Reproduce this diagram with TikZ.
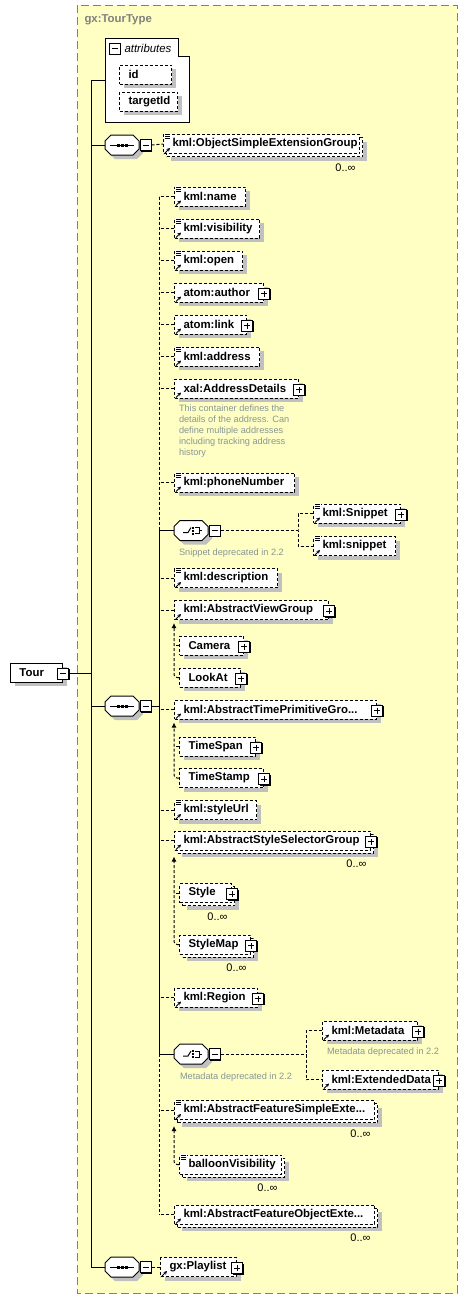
\documentclass[tikz,border=0pt]{standalone}
\usepackage{fontspec}
\setmainfont{Liberation Sans}
\usepackage{tikz}
\usetikzlibrary{arrows.meta,shadows}

\definecolor{bgyellow}{RGB}{255,255,195}
\definecolor{shadowgray}{RGB}{192,192,192}
\definecolor{notegray}{RGB}{135,150,150}
\definecolor{framegray}{RGB}{128,128,128}

\newcommand{\elemfont}{\fontsize{11.4}{13}\selectfont\bfseries}
\newcommand{\notefont}{\fontsize{9.2}{11}\selectfont}
\newcommand{\multfont}{\fontsize{11}{13}\selectfont}

\tikzset{
  dashed/.style={dash pattern=on 3pt off 2pt},
  shade4/.style={drop shadow={shadow xshift=4pt,shadow yshift=-4pt,fill=shadowgray,opacity=1}},
  elembox/.style={draw, fill=white, text width=#1pt, inner xsep=9pt, inner ysep=0pt,
    minimum height=19pt, align=left, font=\elemfont},
  elem/.style={elembox=#1, dashed, shade4},
  reqelem/.style={elembox=#1, shade4},
  multi/.style={elembox=#1, dashed,
    drop shadow={shadow xshift=7pt,shadow yshift=-7pt,fill=shadowgray,opacity=1},
    general shadow={shadow xshift=3pt,shadow yshift=-3pt,draw,dashed,fill=white}},
  compositor/.style={minimum width=34pt, minimum height=20pt, inner sep=0pt},
  minusbox/.style={draw, solid, fill=white, minimum size=11pt, inner sep=0pt,
    drop shadow={shadow xshift=1pt,shadow yshift=-1pt,fill=black,opacity=1},
    path picture={\draw ([xshift=2.5pt]path picture bounding box.west) -- ([xshift=-2.5pt]path picture bounding box.east);}},
  plusbox/.style={draw, solid, fill=white, minimum size=11pt, inner sep=0pt,
    drop shadow={shadow xshift=1pt,shadow yshift=-1pt,fill=black,opacity=1},
    path picture={\draw ([xshift=2.5pt]path picture bounding box.west) -- ([xshift=-2.5pt]path picture bounding box.east);
      \draw ([yshift=2.5pt]path picture bounding box.south) -- ([yshift=-2.5pt]path picture bounding box.north);}},
  note/.style={font=\notefont, text=notegray, inner sep=0pt, align=left},
  mult/.style={font=\multfont, inner sep=0pt},
  subst/.style={dashed, rounded corners=3pt, -{Latex[length=5pt,width=5pt]}},
}

\begin{document}
\begin{tikzpicture}[x=1pt,y=-1pt,line width=1pt]
\useasboundingbox (0,0) rectangle (468,1299);

% type frame
\fill[bgyellow] (77,5) rectangle (457,1293);
\draw[framegray, dash pattern=on 8pt off 4pt] (77,5) rectangle (457,1293);
\node[anchor=west, text=framegray, font=\elemfont, inner sep=0pt] (title) at (84,19.5) {gx:TourType};

% attributes
\draw[fill=white] (105,38) -- (178,38) -- (178,56) -- (189,56) -- (189,122) -- (105,122) -- cycle;
\node[minusbox] (attr-m) at (114.5,48.5) {};
\node[anchor=west, inner sep=0pt, font=\fontsize{11.4}{13}\selectfont\itshape] (attrs) at (124,48) {attributes};
\node[elem=34, anchor=west] (id) at (119,74.5) {id};
\node[elem=40, anchor=west] (targetId) at (119,101.5) {targetId};
\coordinate (attr) at (105,80);

% root element
\node[reqelem=34, anchor=west] (tour) at (10,672.5) {Tour};
\node[minusbox] (tour-m) at ([yshift=-1pt]tour.east) {};

% compositors
\node[compositor] (seqA) at (122,145) {};
\node[compositor] (seqB) at (122,706) {};
\node[compositor] (seqC) at (122,1267) {};
\node[compositor] (choiceA) at (191,530.5) {};
\node[compositor] (choiceB) at (191,1054) {};

% elements
\node[multi=178, anchor=west] (osx) at (163,144) {kml:ObjectSimpleExtensionGroup};
\node[elem=53, anchor=west] (name) at (174,196.5) {kml:name};
\node[elem=67, anchor=west] (vis) at (174,228.5) {kml:visibility};
\node[elem=50, anchor=west] (open) at (174,260.5) {kml:open};
\node[elem=71, anchor=west] (author) at (174,292.5) {atom:author};
\node[elem=54, anchor=west] (link) at (174,324.5) {atom:link};
\node[elem=67, anchor=west] (address) at (174,356.5) {kml:address};
\node[elem=106, anchor=west] (xal) at (174,388.5) {xal:AddressDetails};
\node[note, anchor=north west] (xal-note) at (178.5,404.5) {This container defines the\\details of the address. Can\\define multiple addresses\\including tracking address\\history};
\node[elem=102, anchor=west] (phone) at (174,482.5) {kml:phoneNumber};
\node[elem=69, anchor=west] (snipA) at (313,513.5) {kml:Snippet};
\node[elem=64, anchor=west] (snipB) at (313,546) {kml:snippet};
\node[note, anchor=west] (snip-note) at (178.5,553) {Snippet deprecated in 2.2};
\node[elem=85, anchor=west] (desc) at (174,578) {kml:description};
\node[elem=136, anchor=west] (view) at (174,610) {kml:AbstractViewGroup};
\node[elem=46, anchor=west] (camera) at (179,645.5) {Camera};
\node[elem=43, anchor=west] (lookat) at (179,677.5) {LookAt};
\node[elem=184, anchor=west] (time) at (174,709.5) {kml:AbstractTimePrimitiveGro...};
\node[elem=58, anchor=west] (span) at (179,746.5) {TimeSpan};
\node[elem=66, anchor=west] (stamp) at (179,778) {TimeStamp};
\node[elem=64, anchor=west] (styleurl) at (174,810) {kml:styleUrl};
\node[multi=178, anchor=west] (selector) at (174,840.5) {kml:AbstractStyleSelectorGroup};
\node[multi=34, anchor=west] (style) at (179,893) {Style};
\node[multi=53, anchor=west] (stylemap) at (179,944.5) {StyleMap};
\node[elem=65, anchor=west] (region) at (174,997.5) {kml:Region};
\node[elem=77, anchor=west] (meta) at (322,1030.5) {kml:Metadata};
\node[note, anchor=west] (meta-note) at (326.5,1052) {Metadata deprecated in 2.2};
\node[elem=98, anchor=west] (ext) at (322,1079.5) {kml:ExtendedData};
\node[note, anchor=west] (choiceB-note) at (179.5,1077) {Metadata deprecated in 2.2};
\node[multi=182, anchor=west] (featsimple) at (174,1110) {kml:AbstractFeatureSimpleExte...};
\node[multi=84, anchor=west] (balloon) at (179,1164.5) {balloonVisibility};
\node[multi=182, anchor=west] (featobj) at (174,1214.5) {kml:AbstractFeatureObjectExte...};
\node[elem=58, anchor=west] (playlist) at (160,1267) {gx:Playlist};

% compositor symbols
\foreach \s in {seqA,seqB,seqC,choiceA,choiceB} {
\draw[fill=white, shade4] ([shift={(-11,-10)}]\s.center) -- ([shift={(11,-10)}]\s.center)
  -- ([shift={(17,-4)}]\s.center) -- ([shift={(17,4)}]\s.center) -- ([shift={(11,10)}]\s.center)
  -- ([shift={(-11,10)}]\s.center) -- ([shift={(-17,4)}]\s.center) -- ([shift={(-17,-4)}]\s.center) -- cycle;
\node[minusbox, anchor=west] (\s-m) at (\s.east) {};
}
\foreach \s in {seqA,seqB,seqC} {
\draw ([xshift=-12pt]\s.center) -- ([xshift=12pt]\s.center);
\foreach \d in {-4,0,4} \fill ([shift={(\d-1.5,-1.5)}]\s.center) rectangle ++(3,3);
}
\foreach \s in {choiceA,choiceB} {
\draw ([shift={(-8,2)}]\s.center) -- ++(5,0) -- ++(3,-5);
\foreach \d in {-3,0,3} \fill ([shift={(1,\d-1)}]\s.center) rectangle ++(2,2);
\draw ([shift={(4,-3)}]\s.center) -- ++(4,0) -- ++(0,6) -- ++(-4,0);
\draw ([shift={(8,0)}]\s.center) -- ++(3,0);
}

% expand boxes and icons
\foreach \n in {author,link,xal,snipA,view,camera,lookat,time,span,stamp,selector,style,stylemap,region,meta,ext,playlist}
\node[plusbox] (\n-p) at ([yshift=-1pt]\n.east) {};
\foreach \n in {osx,name,vis,open,address,phone,snipA,snipB,desc,styleurl,featsimple,balloon} {
\fill[white] ([shift={(1,-1)}]\n.north west) rectangle ++(7,7);
\foreach \k in {0.5,2.5,4.5} \draw[line width=0.9pt] ([shift={(2,\k)}]\n.north west) -- ++(5,0);
}
\foreach \n in {osx,name,vis,open,author,link,address,xal,phone,snipA,snipB,desc,view,time,styleurl,selector,region,meta,ext,featsimple,featobj,playlist}
\draw[line width=1pt, -{Stealth[length=3.5pt,width=3.5pt]}] ([shift={(2,-1)}]\n.south west) -- ++(5,-5);
\foreach \n in {osx,selector,style,stylemap,featsimple,balloon,featobj}
\node[mult, anchor=north east] (\n-n) at ([shift={(-4,9)}]\n.south east) {0..∞};

% trunk
\coordinate (root) at (91,80);
\draw (attr) -- (root) -- (root |- seqC) -- (seqC.west);
\draw (seqA.west) -- (seqA.west -| root);
\draw (seqB.west) -- (seqB.west -| root);
\draw (tour-m.east) -- (tour-m.east -| root);
\draw[dashed] (seqA-m.east) -- (osx.west);
\draw[dashed] (seqC-m.east) -- (playlist.west);

% sequence children
\coordinate (spine) at (159,706);
\draw (seqB-m.east) -- (spine);
\draw[dashed] (name.west -| spine) -- (choiceA.west -| spine);
\draw (choiceA.west -| spine) -- (choiceB.west -| spine);
\draw[dashed] (choiceB.west -| spine) -- (featobj.west -| spine);
\foreach \n in {choiceA,choiceB}
\draw (\n.west) -- (\n.west -| spine);
\foreach \n in {name,vis,open,author,link,address,xal,phone,desc,view,time,styleurl,selector,region,featsimple,featobj}
\draw[dashed] (\n.west) -- (\n.west -| spine);

% choices
\coordinate (forkA) at (298,530.5);
\coordinate (forkB) at (306,1054);
\draw[dashed] (choiceA-m.east) -- (forkA);
\draw[dashed] (snipA.west) -| (forkA) |- (snipB.west);
\draw[dashed] (choiceB-m.east) -- (forkB);
\draw[dashed] (meta.west) -| (forkB) |- (ext.west);

% substitution groups
\draw[subst] (lookat.west) -| ([yshift=-3pt]view.south west);
\draw[dashed] (camera.west) -- (camera.west -| view.west);
\draw[subst] (stamp.west) -| ([yshift=-3pt]time.south west);
\draw[dashed] (span.west) -- (span.west -| time.west);
\draw[subst] (stylemap.west) -| ([yshift=-6pt]selector.south west);
\draw[dashed] (style.west) -- (style.west -| selector.west);
\draw[subst] (balloon.west) -| ([yshift=-6pt]featsimple.south west);
\end{tikzpicture}
\end{document}
